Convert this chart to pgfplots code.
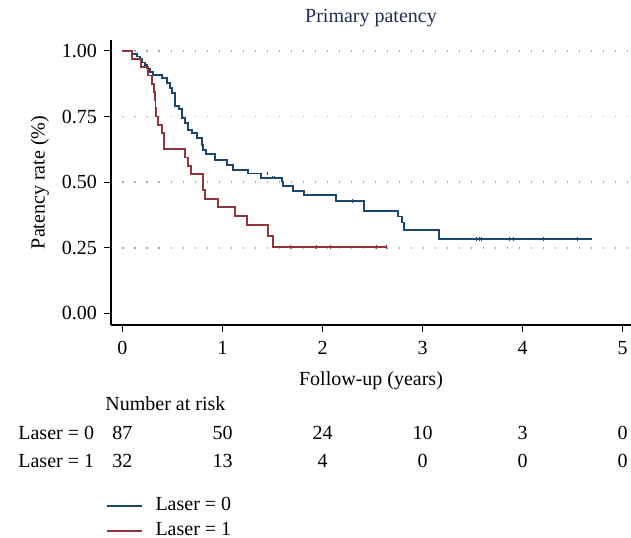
\documentclass[border=0pt]{standalone}
\usepackage{fontspec}
\setmainfont{Liberation Serif}
\usepackage{pgfplots}
\pgfplotsset{compat=1.18}
\definecolor{navy}{RGB}{26,71,111}
\definecolor{maroon}{RGB}{144,53,59}
\definecolor{titleblue}{RGB}{30,45,85}

\begin{document}
\begin{tikzpicture}
\begin{axis}[
  scale only axis,
  width=260pt, height=142.5pt,
  xmin=-0.115, xmax=5.085,
  ymin=-0.044, ymax=1.042,
  axis x line*=bottom, axis y line*=left,
  axis line style={black, line width=0.7pt, -},
  xtick={0,1,2,3,4,5},
  ytick={0,0.25,0.5,0.75,1},
  tick align=outside,
  major tick length=3.5pt,
  tick style={black, line width=0.6pt},
  yticklabel style={/pgf/number format/.cd, fixed, fixed zerofill, precision=2},
  /pgf/number format/assume math mode=true,
  ticklabel style={font=\normalsize},
  xticklabel style={yshift=-1pt},
  xlabel={Follow-up (years)},
  ylabel={Patency rate (\%)},
  xlabel style={at={(axis description cs:0.5,-0.197)}, anchor=center},
  ylabel style={at={(axis description cs:-0.137,0.5)}, anchor=center},
  title={Primary patency},
  every axis title shift=0pt,
  title style={at={(axis description cs:0.5,1.077)}, anchor=center, text=titleblue},
  clip=false,
  const plot,
  legend style={at={(axis description cs:-0.01,-0.589)}, anchor=north west,
    draw=none, fill=none, inner sep=0pt, row sep=0pt,
    nodes={inner sep=1.75pt, text height=7pt, text depth=2pt},
    legend cell align=left},
  legend image code/.code={\draw[#1] (0pt,0pt) -- (17.5pt,0pt); \path (22pt,0pt);},
]
% dotted reference lines
\foreach \g in {0.25,0.5,0.75,1} {
  \edef\temp{\noexpand\draw[gray!70, line width=0.8pt, dash pattern=on 0.7pt off 5.3pt]
    (axis cs:0,\g) -- (axis cs:5.085,\g);}
  \temp
}

\addplot[navy, line width=0.9pt, mark=none] coordinates {
(0,1.0) (0.092,0.989) (0.142,0.979) (0.175,0.968) (0.192,0.956) (0.225,0.945)
(0.248,0.933) (0.275,0.921) (0.308,0.909) (0.392,0.897) (0.442,0.877) (0.475,0.858)
(0.492,0.839) (0.525,0.790) (0.568,0.780) (0.592,0.744) (0.625,0.725) (0.658,0.700)
(0.692,0.686) (0.742,0.667) (0.792,0.642) (0.808,0.623) (0.835,0.606) (0.925,0.583)
(1.042,0.565) (1.102,0.547) (1.258,0.533) (1.385,0.517) (1.592,0.502) (1.608,0.485)
(1.708,0.467) (1.818,0.450) (2.135,0.429) (2.418,0.390) (2.752,0.369) (2.798,0.346)
(2.815,0.318) (3.168,0.284) (4.698,0.284)
};
\addlegendentry{Laser = 0}
\addplot[maroon, line width=0.9pt, mark=none] coordinates {
(0,1.0) (0.092,0.969) (0.185,0.938) (0.258,0.906) (0.292,0.875) (0.318,0.844)
(0.325,0.813) (0.330,0.781) (0.335,0.750) (0.352,0.719) (0.392,0.688) (0.415,0.625)
(0.625,0.594) (0.655,0.562) (0.682,0.531) (0.808,0.470) (0.828,0.436) (0.952,0.405)
(1.125,0.371) (1.242,0.337) (1.455,0.296) (1.505,0.253) (2.648,0.253)
};
\addlegendentry{Laser = 1}
% censoring marks
\addplot[navy, only marks, mark=|, mark size=0.9pt, mark options={line width=0.4pt}, forget plot] coordinates {
(3.535,0.284) (3.568,0.284) (3.585,0.284) (3.868,0.284) (3.908,0.284) (4.208,0.284) (4.548,0.284)
(1.45,0.533) (1.50,0.517) (1.52,0.517) (2.30,0.429)
};
\addplot[maroon, only marks, mark=|, mark size=0.9pt, mark options={line width=0.4pt}, forget plot] coordinates {
(1.675,0.253) (1.942,0.253) (2.075,0.253) (2.542,0.253) (2.642,0.253)
};

% number at risk table
\node[anchor=base west, inner sep=0pt] at (axis cs:-0.175,-0.371) {Number at risk};
\node[anchor=base west, inner sep=0pt] at (axis cs:-1.045,-0.482) {Laser = 0};
\node[anchor=base west, inner sep=0pt] at (axis cs:-1.045,-0.589) {Laser = 1};
\foreach \t/\a/\b in {0/87/32, 1/50/13, 2/24/4, 3/10/0, 4/3/0, 5/0/0} {
  \edef\temp{\noexpand\node[anchor=base] at (axis cs:\t,-0.482) {\a};
    \noexpand\node[anchor=base] at (axis cs:\t,-0.589) {\b};}
  \temp
}

\coordinate (bbtl) at (axis cs:-1.225,1.194);
\coordinate (bbbr) at (axis cs:5.085,-0.855);
\end{axis}
\pgfresetboundingbox
\path[use as bounding box] (bbtl) rectangle (bbbr);
\end{tikzpicture}
\end{document}
